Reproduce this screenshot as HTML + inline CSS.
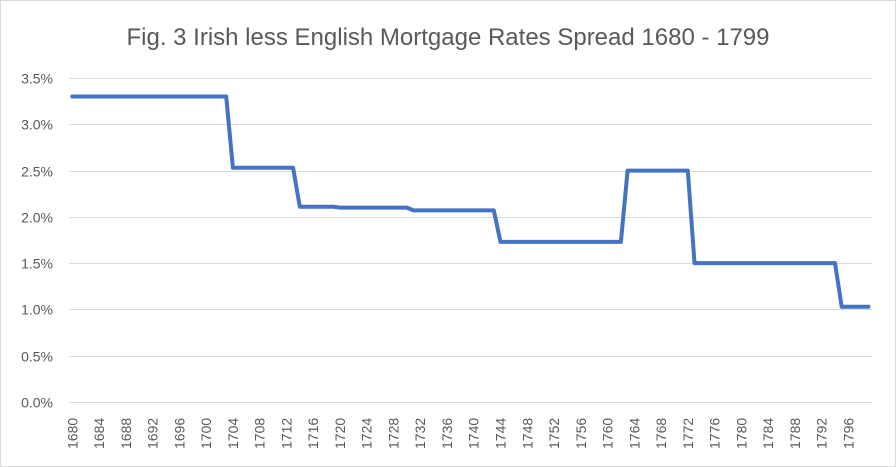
<!DOCTYPE html>
<html><head><meta charset="utf-8"><style>
body{margin:0;background:#fff}
svg{display:block;font-family:"Liberation Sans",sans-serif}
</style></head><body>
<svg id="s" width="896" height="467" viewBox="0 0 896 467" xmlns="http://www.w3.org/2000/svg">
<rect x="0.5" y="0.5" width="895" height="466" fill="#fff" stroke="#d9d9d9"/>
<text x="448" y="45" text-anchor="middle" font-size="24" fill="#595959" font-family="Liberation Sans, DejaVu Sans, sans-serif">Fig. 3 Irish less English Mortgage Rates Spread 1680 - 1799</text>
<g id="grid" stroke="#d9d9d9" stroke-width="1"></g>
<g id="yl" font-size="14" fill="#595959" text-anchor="end"></g>
<g id="xl" font-size="14" fill="#595959"></g>
<polyline id="ln" fill="none" stroke="#4472c4" stroke-width="4" stroke-linejoin="round" stroke-linecap="round"/>
</svg>
<script>
var ns="http://www.w3.org/2000/svg";
function el(t,a,p,txt){var e=document.createElementNS(ns,t);for(var k in a)e.setAttribute(k,a[k]);if(txt)e.textContent=txt;document.getElementById(p).appendChild(e);return e;}
var y0=402,pp=92.57;
for(var i=0;i<=7;i++){var y=y0-i*0.5*pp;y=Math.round(y)+0.5;
el('line',{x1:69,x2:872,y1:y,y2:y},'grid');
el('text',{x:53,y:y+5},'yl',(i*0.5).toFixed(1)+'%');}
var cw=6.69,x0=69;
for(var yr=1680;yr<=1796;yr+=4){var cx=x0+(yr-1680+0.5)*cw;
el('text',{x:0,y:0,transform:'translate('+(cx+5)+',449) rotate(-90)'},'xl',yr);}
var seg=[[1680,3.3],[1704,2.53],[1714,2.11],[1720,2.10],[1731,2.07],[1744,1.73],[1763,2.5],[1773,1.5],[1795,1.03]];
var pts=[];
for(var yr=1680;yr<=1799;yr++){var v;for(var j=0;j<seg.length;j++)if(yr>=seg[j][0])v=seg[j][1];
pts.push((x0+(yr-1680+0.5)*cw).toFixed(1)+','+(y0-v*pp).toFixed(1));}
document.getElementById('ln').setAttribute('points',pts.join(' '));
</script>
</body></html>
